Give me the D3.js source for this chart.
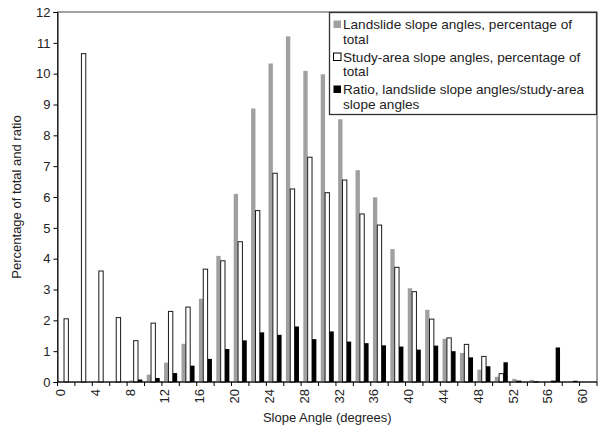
<!DOCTYPE html>
<html>
<head>
<meta charset="utf-8">
<script src="https://cdn.jsdelivr.net/npm/d3@7"></script>
<style>
  body { margin: 0; background: #fff; }
  svg { font-family: "Liberation Sans", Arial, sans-serif; }
</style>
</head>
<body>
<div id="chart"></div>
<script>
const categories = [0, 2, 4, 6, 8, 10, 12, 14, 16, 18, 20, 22, 24, 26, 28, 30, 32, 34, 36, 38, 40, 42, 44, 46, 48, 50, 52, 54, 56, 58, 60];
const landslide = [0, 0, 0, 0, 0.05, 0.24, 0.63, 1.24, 2.70, 4.09, 6.10, 8.87, 10.33, 11.21, 10.09, 9.98, 8.52, 6.87, 5.99, 4.31, 3.04, 2.34, 1.40, 0.94, 0.40, 0.17, 0.10, 0.07, 0.02, 0, 0];
const studyArea = [2.05, 10.65, 3.60, 2.09, 1.34, 1.91, 2.29, 2.43, 3.66, 3.93, 4.55, 5.56, 6.77, 6.26, 7.29, 6.14, 6.55, 5.45, 5.09, 3.72, 2.93, 2.04, 1.43, 1.22, 0.83, 0.27, 0.03, 0.01, 0.03, 0, 0];
const ratio = [0, 0, 0, 0, 0.08, 0.13, 0.29, 0.53, 0.75, 1.07, 1.35, 1.61, 1.53, 1.80, 1.39, 1.64, 1.31, 1.26, 1.19, 1.15, 1.05, 1.18, 1.00, 0.80, 0.51, 0.64, 0, 0, 1.12, 0.04, 0];
const xTickLabels = [0, 4, 8, 12, 16, 20, 24, 28, 32, 36, 40, 44, 48, 52, 56, 60];
const yTicks = [0, 1, 2, 3, 4, 5, 6, 7, 8, 9, 10, 11, 12];

const series = [
	{ key: "landslide", values: landslide, fill: "#a0a0a0", stroke: "none",
		label: ["Landslide slope angles, percentage of", "total"] },
	{ key: "study", values: studyArea, fill: "#ffffff", stroke: "#1a1a1a",
		label: ["Study-area slope angles, percentage of", "total"] },
	{ key: "ratio", values: ratio, fill: "#000000", stroke: "none",
		label: ["Ratio, landslide slope angles/study-area", "slope angles"] }
];

const width = 603, height = 432;
const margin = { top: 12, right: 6, bottom: 50, left: 57.5 };

const svg = d3.select("#chart").append("svg")
	.attr("width", width)
	.attr("height", height);

const x = d3.scaleBand()
	.domain(categories)
	.range([margin.left, width - margin.right])
	.paddingInner(0.25)
	.paddingOuter(0.125);

const xSub = d3.scaleBand()
	.domain(series.map(s => s.key))
	.range([0, x.bandwidth()]);

const y = d3.scaleLinear()
	.domain([0, 12])
	.range([height - margin.bottom, margin.top]);

const step = x.step();
const gapHalf = step * x.paddingInner() / 2;

// plot frame
svg.append("rect")
	.attr("x", margin.left)
	.attr("y", margin.top)
	.attr("width", width - margin.right - margin.left)
	.attr("height", y(0) - margin.top)
	.attr("fill", "none")
	.attr("stroke", "#444")
	.attr("stroke-width", 1);

// bars
svg.append("g")
	.selectAll("g")
	.data(series)
	.enter()
	.append("g")
		.attr("fill", d => d.fill)
		.attr("stroke", d => d.stroke)
		.attr("stroke-width", 1)
		.selectAll("rect")
		.data(s => s.values.map((v, i) => ({ key: s.key, cat: categories[i], value: v })))
		.enter()
		.append("rect")
			.attr("x", d => x(d.cat) + xSub(d.key))
			.attr("y", d => y(d.value))
			.attr("width", xSub.bandwidth())
			.attr("height", d => y(0) - y(d.value));

// y axis
const yAxis = svg.append("g")
	.attr("transform", `translate(${margin.left}, 0)`)
	.call(d3.axisLeft(y).tickValues(yTicks).tickSize(4).tickPadding(3));
yAxis.select(".domain").attr("stroke", "#000");
yAxis.selectAll("text").style("font-size", "13px").attr("fill", "#222");

// x axis: ticks at category boundaries
const xAxis = svg.append("g")
	.attr("transform", `translate(0, ${y(0)})`);
xAxis.append("line")
	.attr("x1", margin.left).attr("x2", width - margin.right)
	.attr("stroke", "#000");
xAxis.selectAll("line.tick")
	.data(categories.concat(["end"]))
	.enter()
	.append("line")
		.attr("class", "tick")
		.attr("x1", d => d === "end" ? width - margin.right : x(d) - gapHalf)
		.attr("x2", d => d === "end" ? width - margin.right : x(d) - gapHalf)
		.attr("y2", 4)
		.attr("stroke", "#000");
xAxis.selectAll("text")
	.data(xTickLabels)
	.enter()
	.append("text")
		.attr("transform", d => `translate(${x(d) - gapHalf + 3}, 7) rotate(-90)`)
		.attr("text-anchor", "end")
		.attr("dy", "0.35em")
		.style("font-size", "13px")
		.attr("fill", "#222")
		.text(d => d);

// axis titles
svg.append("text")
	.attr("x", (margin.left + width - margin.right) / 2)
	.attr("y", 422)
	.attr("text-anchor", "middle")
	.style("font-size", "13px")
	.attr("fill", "#222")
	.text("Slope Angle (degrees)");

svg.append("text")
	.attr("transform", `translate(21, ${(margin.top + y(0)) / 2}) rotate(-90)`)
	.attr("text-anchor", "middle")
	.style("font-size", "13px")
	.attr("fill", "#222")
	.text("Percentage of total and ratio");

// legend
const legend = svg.append("g")
	.attr("transform", "translate(329.5, 12.5)");

legend.append("rect")
	.attr("width", 267)
	.attr("height", 102)
	.attr("fill", "#fff")
	.attr("stroke", "#333")
	.attr("stroke-width", 1.3);

const entry = legend.selectAll("g.entry")
	.data(series)
	.enter()
	.append("g")
		.attr("class", "entry")
		.attr("transform", (d, i) => `translate(0, ${12 + i * 32.5})`);

entry.append("rect")
	.attr("x", 4)
	.attr("y", -4)
	.attr("width", 7.5)
	.attr("height", 7.5)
	.attr("fill", d => d.fill)
	.attr("stroke", d => d.stroke === "none" ? "none" : "#000");

entry.append("text")
	.style("font-size", "13.6px")
	.attr("fill", "#222")
	.selectAll("tspan")
	.data(d => d.label)
	.enter()
	.append("tspan")
		.attr("x", 13.5)
		.attr("y", (d, i) => i * 14.5)
		.attr("dy", "0.35em")
		.text(d => d);
</script>
</body>
</html>
